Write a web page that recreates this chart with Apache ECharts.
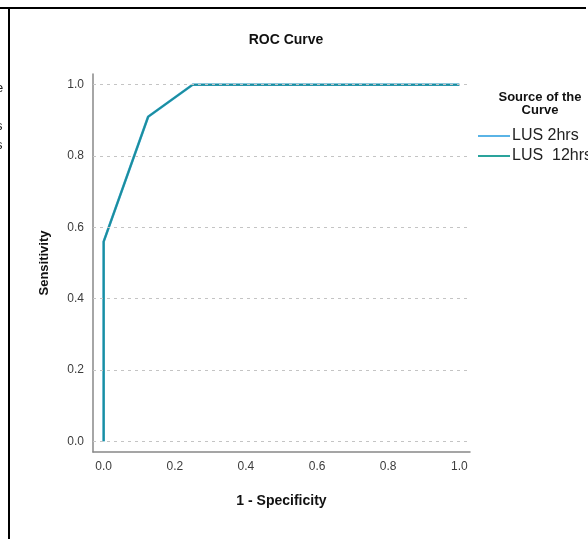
<!DOCTYPE html>
<html>
<head>
<meta charset="utf-8">
<script src="https://cdn.jsdelivr.net/npm/echarts@6/dist/echarts.min.js"></script>
<style>html,body{margin:0;padding:0;background:#fff;}#c{width:588px;height:539px;}</style>
</head>
<body>
<div id="c"></div>
<script>
var seriesNames = ['LUS 2hrs', 'LUS  12hrs'];
var fpr2 = [0, 0, 0.125, 0.25, 1];
var tpr2 = [0, 0.56, 0.91, 1, 1];
var fpr12 = [0, 0, 0.125, 0.25, 1];
var tpr12 = [0, 0.56, 0.91, 1, 1];
var tickValues = [0, 0.2, 0.4, 0.6, 0.8, 1.0];

function pairs(xs, ys) { return xs.map(function (x, i) { return [x, ys[i]]; }); }

var chart = echarts.init(document.getElementById('c'), null, { renderer: 'canvas' });
var font = 'Arial, "Liberation Sans", sans-serif';
chart.setOption({
  animation: false,
  backgroundColor: '#fff',
  title: [
    { text: 'ROC Curve', left: 281, top: 28, textAlign: 'center',
      textStyle: { fontFamily: font, fontSize: 14, fontWeight: 'bold', color: '#111' } },
    { text: 'Source of the\nCurve', left: 535, top: 86, textAlign: 'center',
      textStyle: { fontFamily: font, fontSize: 13, fontWeight: 'bold', color: '#111', lineHeight: 13 } }
  ],
  legend: {
    orient: 'vertical', left: 473, top: 123, itemGap: 4,
    itemWidth: 32, itemHeight: 2, icon: 'rect',
    textStyle: { fontFamily: font, fontSize: 16, color: '#222', padding: [0, 0, 0, -3] },
    data: seriesNames
  },
  grid: { left: 93, right: 118, top: 74, bottom: 87, containLabel: false },
  xAxis: {
    type: 'value', min: -0.03, max: 1.03,
    name: '1 - Specificity', nameLocation: 'middle', nameGap: 42,
    nameTextStyle: { fontFamily: font, fontSize: 14, fontWeight: 'bold', color: '#111' },
    axisLine: { show: true, onZero: false, lineStyle: { color: '#888', width: 1.5 } },
    axisTick: { show: false },
    splitLine: { show: false },
    axisLabel: { customValues: tickValues, formatter: function (v) { return v.toFixed(1); },
      fontFamily: font, fontSize: 12, color: '#3c3c3c', margin: 9 }
  },
  yAxis: {
    type: 'value', min: -0.03, max: 1.03,
    name: 'Sensitivity', nameLocation: 'middle', nameGap: 42,
    nameTextStyle: { fontFamily: font, fontSize: 13, fontWeight: 'bold', color: '#111' },
    axisLine: { show: true, onZero: false, lineStyle: { color: '#888', width: 1.5 } },
    axisTick: { show: false },
    splitLine: { show: false },
    axisLabel: { customValues: tickValues, formatter: function (v) { return v.toFixed(1); },
      fontFamily: font, fontSize: 12, color: '#3c3c3c', margin: 9 }
  },
  series: [
    { name: seriesNames[0], type: 'line', data: pairs(fpr2, tpr2), symbol: 'none',
      lineStyle: { color: '#5ab4e6', width: 2.6 }, itemStyle: { color: '#5ab4e6' },
      markLine: { silent: true, symbol: 'none', label: { show: false },
        lineStyle: { type: [3, 4], color: '#c4c4c4', width: 1 },
        data: tickValues.map(function (v) { return { yAxis: v }; }) } },
    { name: seriesNames[1], type: 'line', data: pairs(fpr12, tpr12), symbol: 'none',
      lineStyle: { color: '#1b8f9d', width: 2 }, itemStyle: { color: '#2aa39c' } }
  ],
  graphic: [
    { type: 'line', shape: { x1: 0, y1: 8, x2: 586, y2: 8 }, style: { stroke: '#000', lineWidth: 2 } },
    { type: 'line', shape: { x1: 9, y1: 8, x2: 9, y2: 539 }, style: { stroke: '#000', lineWidth: 2 } },
    { type: 'text', x: -4, y: 82, style: { text: 'e', font: '13px Arial', fill: '#222' } },
    { type: 'text', x: -4, y: 120, style: { text: 's', font: '13px Arial', fill: '#222' } },
    { type: 'text', x: -4, y: 139, style: { text: 's', font: '13px Arial', fill: '#222' } }
  ]
});
</script>
</body>
</html>
